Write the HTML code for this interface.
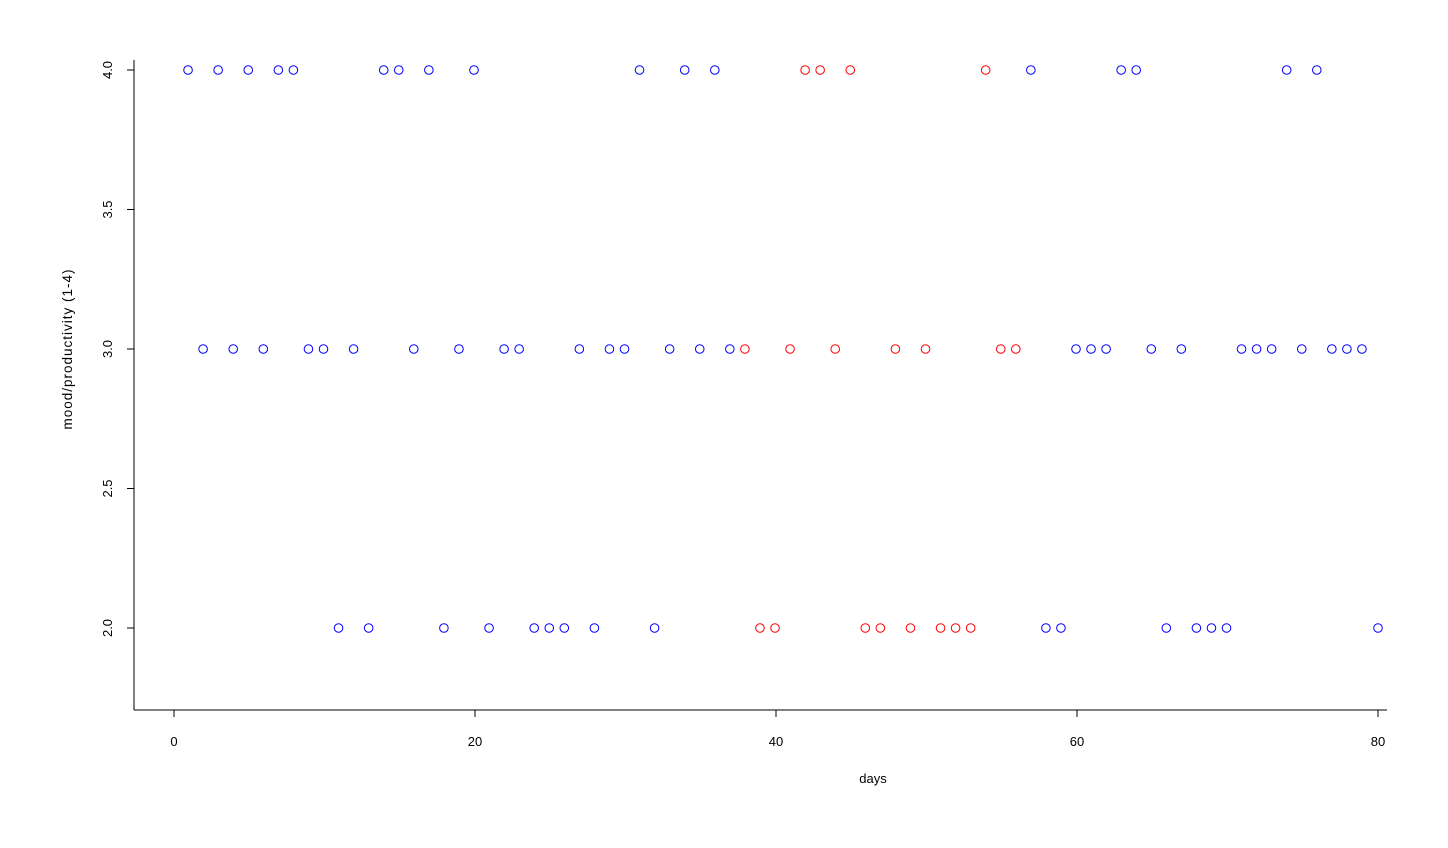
<!DOCTYPE html>
<html><head><meta charset="utf-8"><style>
html,body{margin:0;padding:0;background:#fff;}
svg{display:block;font-family:"Liberation Sans",sans-serif;}
</style></head><body>
<svg width="1448" height="848" viewBox="0 0 1448 848" xmlns="http://www.w3.org/2000/svg">
<g stroke="#000" stroke-width="1" fill="none">
<line x1="134" y1="60" x2="134" y2="710"/>
<line x1="134" y1="710" x2="1387" y2="710"/>
<line x1="174" y1="710" x2="174" y2="717"/>
<line x1="475" y1="710" x2="475" y2="717"/>
<line x1="776" y1="710" x2="776" y2="717"/>
<line x1="1077" y1="710" x2="1077" y2="717"/>
<line x1="1378" y1="710" x2="1378" y2="717"/>
<line x1="127" y1="70" x2="134" y2="70"/>
<line x1="127" y1="209.5" x2="134" y2="209.5"/>
<line x1="127" y1="349" x2="134" y2="349"/>
<line x1="127" y1="488.5" x2="134" y2="488.5"/>
<line x1="127" y1="628" x2="134" y2="628"/>
</g>
<g font-size="13" fill="#000" text-anchor="middle">
<text x="174" y="746">0</text>
<text x="475" y="746">20</text>
<text x="776" y="746">40</text>
<text x="1077" y="746">60</text>
<text x="1378" y="746">80</text>
<text transform="translate(112,70) rotate(-90)">4.0</text>
<text transform="translate(112,209.5) rotate(-90)">3.5</text>
<text transform="translate(112,349) rotate(-90)">3.0</text>
<text transform="translate(112,488.5) rotate(-90)">2.5</text>
<text transform="translate(112,628) rotate(-90)">2.0</text>
<text x="873" y="783">days</text>
<text transform="translate(72,349) rotate(-90)" font-size="13.5" letter-spacing="1">mood/productivity (1-4)</text>
</g>
<g transform="translate(-1,0)">
<g fill="none" stroke="#0000ff" stroke-width="1">
<circle cx="189.05" cy="70" r="4.3"/><circle cx="204.1" cy="349" r="4.3"/><circle cx="219.15" cy="70" r="4.3"/><circle cx="234.2" cy="349" r="4.3"/><circle cx="249.25" cy="70" r="4.3"/><circle cx="264.3" cy="349" r="4.3"/><circle cx="279.35" cy="70" r="4.3"/><circle cx="294.4" cy="70" r="4.3"/><circle cx="309.45" cy="349" r="4.3"/><circle cx="324.5" cy="349" r="4.3"/>
<circle cx="339.55" cy="628" r="4.3"/><circle cx="354.6" cy="349" r="4.3"/><circle cx="369.65" cy="628" r="4.3"/><circle cx="384.7" cy="70" r="4.3"/><circle cx="399.75" cy="70" r="4.3"/><circle cx="414.8" cy="349" r="4.3"/><circle cx="429.85" cy="70" r="4.3"/><circle cx="444.9" cy="628" r="4.3"/><circle cx="459.95" cy="349" r="4.3"/><circle cx="475" cy="70" r="4.3"/>
<circle cx="490.05" cy="628" r="4.3"/><circle cx="505.1" cy="349" r="4.3"/><circle cx="520.15" cy="349" r="4.3"/><circle cx="535.2" cy="628" r="4.3"/><circle cx="550.25" cy="628" r="4.3"/><circle cx="565.3" cy="628" r="4.3"/><circle cx="580.35" cy="349" r="4.3"/><circle cx="595.4" cy="628" r="4.3"/><circle cx="610.45" cy="349" r="4.3"/><circle cx="625.5" cy="349" r="4.3"/>
<circle cx="640.55" cy="70" r="4.3"/><circle cx="655.6" cy="628" r="4.3"/><circle cx="670.65" cy="349" r="4.3"/><circle cx="685.7" cy="70" r="4.3"/><circle cx="700.75" cy="349" r="4.3"/><circle cx="715.8" cy="70" r="4.3"/><circle cx="730.85" cy="349" r="4.3"/>
<circle cx="1031.85" cy="70" r="4.3"/><circle cx="1046.9" cy="628" r="4.3"/><circle cx="1061.95" cy="628" r="4.3"/><circle cx="1077" cy="349" r="4.3"/><circle cx="1092.05" cy="349" r="4.3"/><circle cx="1107.1" cy="349" r="4.3"/><circle cx="1122.15" cy="70" r="4.3"/><circle cx="1137.2" cy="70" r="4.3"/><circle cx="1152.25" cy="349" r="4.3"/><circle cx="1167.3" cy="628" r="4.3"/>
<circle cx="1182.35" cy="349" r="4.3"/><circle cx="1197.4" cy="628" r="4.3"/><circle cx="1212.45" cy="628" r="4.3"/><circle cx="1227.5" cy="628" r="4.3"/><circle cx="1242.55" cy="349" r="4.3"/><circle cx="1257.6" cy="349" r="4.3"/><circle cx="1272.65" cy="349" r="4.3"/><circle cx="1287.7" cy="70" r="4.3"/><circle cx="1302.75" cy="349" r="4.3"/><circle cx="1317.8" cy="70" r="4.3"/>
<circle cx="1332.85" cy="349" r="4.3"/><circle cx="1347.9" cy="349" r="4.3"/><circle cx="1362.95" cy="349" r="4.3"/><circle cx="1379" cy="628" r="4.3"/>
</g>
<g fill="none" stroke="#ff0000" stroke-width="1">
<circle cx="745.9" cy="349" r="4.3"/><circle cx="760.95" cy="628" r="4.3"/><circle cx="776" cy="628" r="4.3"/><circle cx="791.05" cy="349" r="4.3"/><circle cx="806.1" cy="70" r="4.3"/><circle cx="821.15" cy="70" r="4.3"/><circle cx="836.2" cy="349" r="4.3"/><circle cx="851.25" cy="70" r="4.3"/><circle cx="866.3" cy="628" r="4.3"/><circle cx="881.35" cy="628" r="4.3"/>
<circle cx="896.4" cy="349" r="4.3"/><circle cx="911.45" cy="628" r="4.3"/><circle cx="926.5" cy="349" r="4.3"/><circle cx="941.55" cy="628" r="4.3"/><circle cx="956.6" cy="628" r="4.3"/><circle cx="971.65" cy="628" r="4.3"/><circle cx="986.7" cy="70" r="4.3"/><circle cx="1001.75" cy="349" r="4.3"/><circle cx="1016.8" cy="349" r="4.3"/>
</g>
</g>
</svg>
</body></html>
